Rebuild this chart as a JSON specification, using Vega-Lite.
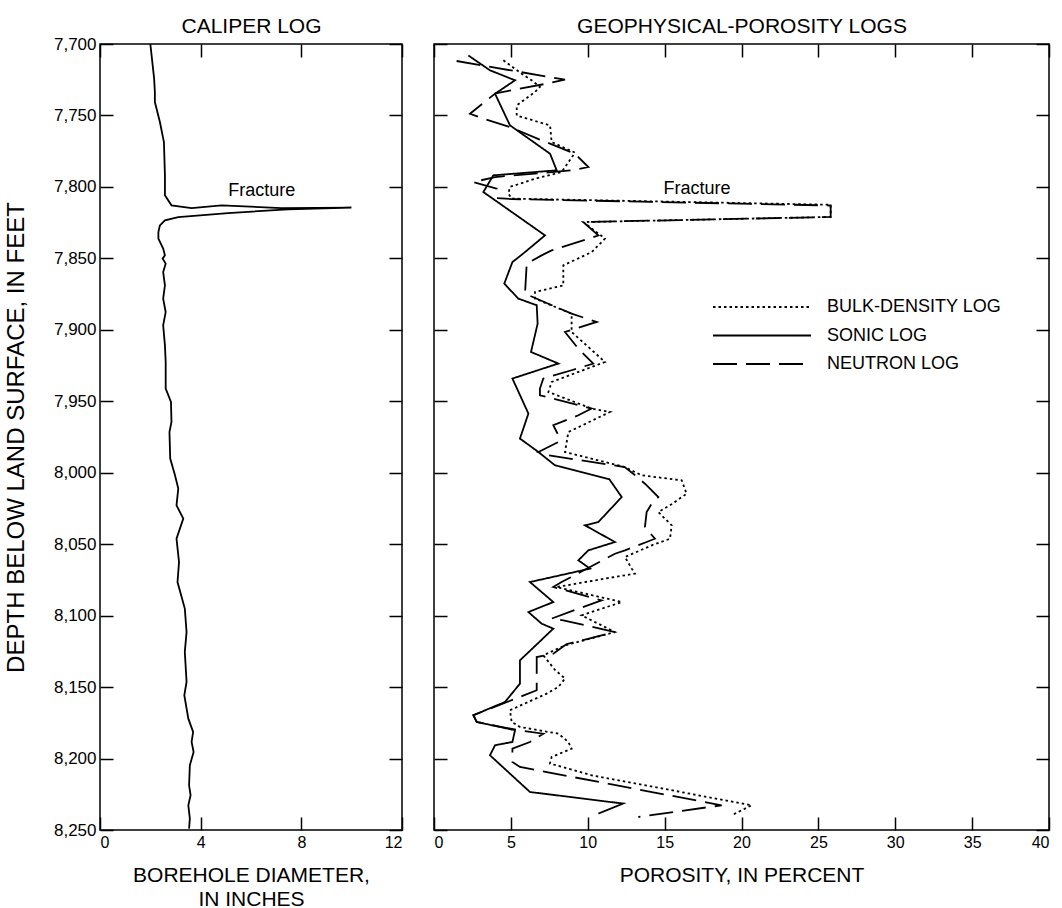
{
  "$schema": "https://vega.github.io/schema/vega-lite/v6.json",
  "background": "white",
  "padding": {"left": 3, "top": 14, "right": 0, "bottom": 0},
  "bounds": "flush",
  "spacing": 32,
  "config": {
    "font": "Liberation Sans",
    "view": {"stroke": "#000", "strokeWidth": 1.5},
    "axis": {
      "grid": false, "domain": false,
      "tickColor": "#000", "tickWidth": 1.5, "tickSize": -13,
      "labelColor": "#000", "labelFontSize": 16, "labelPadding": 17, "labelFont": "Liberation Sans",
      "titleColor": "#000", "titleFontSize": 21, "titleFontWeight": "normal", "titleFont": "Liberation Sans"
    },
    "line": {"color": "#000"}
  },
  "datasets": {
    "caliper": [
      {"depth": 7700, "dia": 2.0}, {"depth": 7708, "dia": 2.05}, {"depth": 7716, "dia": 2.1}, {"depth": 7724, "dia": 2.15},
      {"depth": 7733.6, "dia": 2.18}, {"depth": 7740.6, "dia": 2.18}, {"depth": 7754.6, "dia": 2.38}, {"depth": 7768.6, "dia": 2.54},
      {"depth": 7791.7, "dia": 2.58}, {"depth": 7805.9, "dia": 2.58}, {"depth": 7812.9, "dia": 2.84}, {"depth": 7814.8, "dia": 3.64},
      {"depth": 7812.9, "dia": 4.83}, {"depth": 7814.8, "dia": 7.21}, {"depth": 7814.5, "dia": 9.99}, {"depth": 7815.7, "dia": 7.47},
      {"depth": 7818.3, "dia": 5.09}, {"depth": 7821.1, "dia": 3.11}, {"depth": 7823.4, "dia": 2.58}, {"depth": 7826.9, "dia": 2.38},
      {"depth": 7831.6, "dia": 2.32}, {"depth": 7836.2, "dia": 2.32}, {"depth": 7843.2, "dia": 2.51}, {"depth": 7847.9, "dia": 2.58},
      {"depth": 7850.2, "dia": 2.49}, {"depth": 7853.7, "dia": 2.61}, {"depth": 7859.6, "dia": 2.51}, {"depth": 7868.9, "dia": 2.58},
      {"depth": 7878.2, "dia": 2.51}, {"depth": 7887.6, "dia": 2.61}, {"depth": 7896.9, "dia": 2.51}, {"depth": 7910.9, "dia": 2.58},
      {"depth": 7922.5, "dia": 2.61}, {"depth": 7941.2, "dia": 2.61}, {"depth": 7950.5, "dia": 2.82}, {"depth": 7964.5, "dia": 2.84},
      {"depth": 7971.5, "dia": 2.76}, {"depth": 7990.1, "dia": 2.79}, {"depth": 8001.8, "dia": 2.98}, {"depth": 8011.1, "dia": 3.11},
      {"depth": 8022.8, "dia": 3.04}, {"depth": 8032.1, "dia": 3.31}, {"depth": 8046.1, "dia": 3.04}, {"depth": 8062.5, "dia": 3.14},
      {"depth": 8076.5, "dia": 3.08}, {"depth": 8095.1, "dia": 3.37}, {"depth": 8111.4, "dia": 3.44}, {"depth": 8125.4, "dia": 3.37},
      {"depth": 8146.4, "dia": 3.44}, {"depth": 8155.7, "dia": 3.35}, {"depth": 8172.1, "dia": 3.51}, {"depth": 8181.4, "dia": 3.7},
      {"depth": 8188.4, "dia": 3.64}, {"depth": 8195.4, "dia": 3.72}, {"depth": 8204.7, "dia": 3.57}, {"depth": 8218.7, "dia": 3.54},
      {"depth": 8225.7, "dia": 3.6}, {"depth": 8232.7, "dia": 3.51}, {"depth": 8242.0, "dia": 3.57}, {"depth": 8249.0, "dia": 3.54}
    ],
    "porosity": [
      {"log": "SONIC LOG", "depth": 7708, "p": 2.23}, {"log": "SONIC LOG", "depth": 7718.4, "p": 3.64},
      {"log": "SONIC LOG", "depth": 7725.4, "p": 5.27}, {"log": "SONIC LOG", "depth": 7734.8, "p": 3.97},
      {"log": "SONIC LOG", "depth": 7756.9, "p": 4.94}, {"log": "SONIC LOG", "depth": 7776.8, "p": 7.55},
      {"log": "SONIC LOG", "depth": 7788.4, "p": 7.98}, {"log": "SONIC LOG", "depth": 7791.9, "p": 3.86},
      {"log": "SONIC LOG", "depth": 7803.6, "p": 3.21}, {"log": "SONIC LOG", "depth": 7833.9, "p": 7.22},
      {"log": "SONIC LOG", "depth": 7845.6, "p": 5.92}, {"log": "SONIC LOG", "depth": 7852.6, "p": 5.1},
      {"log": "SONIC LOG", "depth": 7867.7, "p": 4.57}, {"log": "SONIC LOG", "depth": 7878.2, "p": 5.49},
      {"log": "SONIC LOG", "depth": 7882.8, "p": 6.68}, {"log": "SONIC LOG", "depth": 7895.7, "p": 6.74},
      {"log": "SONIC LOG", "depth": 7915.5, "p": 6.31}, {"log": "SONIC LOG", "depth": 7923.6, "p": 8.09},
      {"log": "SONIC LOG", "depth": 7934.1, "p": 5.1}, {"log": "SONIC LOG", "depth": 7958.6, "p": 6.14},
      {"log": "SONIC LOG", "depth": 7976.1, "p": 5.59}, {"log": "SONIC LOG", "depth": 7985.5, "p": 6.79},
      {"log": "SONIC LOG", "depth": 7994.8, "p": 7.87}, {"log": "SONIC LOG", "depth": 8004.5, "p": 11.4},
      {"log": "SONIC LOG", "depth": 8017, "p": 12.21}, {"log": "SONIC LOG", "depth": 8034.5, "p": 10.69},
      {"log": "SONIC LOG", "depth": 8036.8, "p": 9.82}, {"log": "SONIC LOG", "depth": 8048.5, "p": 11.77},
      {"log": "SONIC LOG", "depth": 8054.3, "p": 10.04}, {"log": "SONIC LOG", "depth": 8061.3, "p": 9.39},
      {"log": "SONIC LOG", "depth": 8067.1, "p": 10.15}, {"log": "SONIC LOG", "depth": 8076.5, "p": 6.24},
      {"log": "SONIC LOG", "depth": 8090.5, "p": 7.76}, {"log": "SONIC LOG", "depth": 8097.5, "p": 6.14},
      {"log": "SONIC LOG", "depth": 8105.6, "p": 7.0}, {"log": "SONIC LOG", "depth": 8109.1, "p": 7.76},
      {"log": "SONIC LOG", "depth": 8131.3, "p": 5.59}, {"log": "SONIC LOG", "depth": 8147.6, "p": 5.59},
      {"log": "SONIC LOG", "depth": 8160.4, "p": 4.62}, {"log": "SONIC LOG", "depth": 8169.7, "p": 2.56},
      {"log": "SONIC LOG", "depth": 8174.4, "p": 2.78}, {"log": "SONIC LOG", "depth": 8180.2, "p": 5.27},
      {"log": "SONIC LOG", "depth": 8188.4, "p": 5.1}, {"log": "SONIC LOG", "depth": 8190.7, "p": 3.97},
      {"log": "SONIC LOG", "depth": 8197.7, "p": 3.64}, {"log": "SONIC LOG", "depth": 8223.4, "p": 6.24},
      {"log": "SONIC LOG", "depth": 8231.5, "p": 12.3}, {"log": "SONIC LOG", "depth": 8238.5, "p": 10.69},

      {"log": "NEUTRON LOG", "depth": 7711.9, "p": 1.47}, {"log": "NEUTRON LOG", "depth": 7725, "p": 8.52},
      {"log": "NEUTRON LOG", "depth": 7728, "p": 7.2}, {"log": "NEUTRON LOG", "depth": 7734.5, "p": 4.0},
      {"log": "NEUTRON LOG", "depth": 7748.8, "p": 2.34}, {"log": "NEUTRON LOG", "depth": 7752.3, "p": 3.21},
      {"log": "NEUTRON LOG", "depth": 7758.1, "p": 4.94}, {"log": "NEUTRON LOG", "depth": 7767.4, "p": 7.0},
      {"log": "NEUTRON LOG", "depth": 7776.8, "p": 9.17}, {"log": "NEUTRON LOG", "depth": 7786.1, "p": 10.04},
      {"log": "NEUTRON LOG", "depth": 7788.4, "p": 8.95}, {"log": "NEUTRON LOG", "depth": 7793.1, "p": 3.97},
      {"log": "NEUTRON LOG", "depth": 7796.6, "p": 2.56}, {"log": "NEUTRON LOG", "depth": 7801.2, "p": 4.08},
      {"log": "NEUTRON LOG", "depth": 7807.8, "p": 4.08}, {"log": "NEUTRON LOG", "depth": 7808.5, "p": 5.05},
      {"log": "NEUTRON LOG", "depth": 7813, "p": 25.8}, {"log": "NEUTRON LOG", "depth": 7821, "p": 25.8},
      {"log": "NEUTRON LOG", "depth": 7824.6, "p": 9.71}, {"log": "NEUTRON LOG", "depth": 7833.9, "p": 10.69},
      {"log": "NEUTRON LOG", "depth": 7835.5, "p": 10.25}, {"log": "NEUTRON LOG", "depth": 7844.4, "p": 7.65},
      {"log": "NEUTRON LOG", "depth": 7847.9, "p": 7.0}, {"log": "NEUTRON LOG", "depth": 7853.7, "p": 6.03},
      {"log": "NEUTRON LOG", "depth": 7874.7, "p": 5.92}, {"log": "NEUTRON LOG", "depth": 7888.7, "p": 8.95},
      {"log": "NEUTRON LOG", "depth": 7894.5, "p": 10.58}, {"log": "NEUTRON LOG", "depth": 7901.5, "p": 8.52},
      {"log": "NEUTRON LOG", "depth": 7913.2, "p": 9.39}, {"log": "NEUTRON LOG", "depth": 7923.6, "p": 10.36},
      {"log": "NEUTRON LOG", "depth": 7928.3, "p": 8.95}, {"log": "NEUTRON LOG", "depth": 7934.1, "p": 7.11},
      {"log": "NEUTRON LOG", "depth": 7941.1, "p": 6.89}, {"log": "NEUTRON LOG", "depth": 7945.8, "p": 6.89},
      {"log": "NEUTRON LOG", "depth": 7955.1, "p": 10.25}, {"log": "NEUTRON LOG", "depth": 7959.8, "p": 9.39},
      {"log": "NEUTRON LOG", "depth": 7966.8, "p": 7.76}, {"log": "NEUTRON LOG", "depth": 7973.8, "p": 8.09},
      {"log": "NEUTRON LOG", "depth": 7978.5, "p": 8.09}, {"log": "NEUTRON LOG", "depth": 7985.5, "p": 6.79},
      {"log": "NEUTRON LOG", "depth": 7987.8, "p": 7.44}, {"log": "NEUTRON LOG", "depth": 7996, "p": 12.4},
      {"log": "NEUTRON LOG", "depth": 8000.7, "p": 12.96}, {"log": "NEUTRON LOG", "depth": 8007.7, "p": 13.72},
      {"log": "NEUTRON LOG", "depth": 8017, "p": 14.59}, {"log": "NEUTRON LOG", "depth": 8021.7, "p": 14.16},
      {"log": "NEUTRON LOG", "depth": 8027.5, "p": 13.83}, {"log": "NEUTRON LOG", "depth": 8038, "p": 13.72},
      {"log": "NEUTRON LOG", "depth": 8046.2, "p": 14.37}, {"log": "NEUTRON LOG", "depth": 8048.5, "p": 13.83},
      {"log": "NEUTRON LOG", "depth": 8054.3, "p": 12.42}, {"log": "NEUTRON LOG", "depth": 8056.7, "p": 11.77},
      {"log": "NEUTRON LOG", "depth": 8076.5, "p": 8.3}, {"log": "NEUTRON LOG", "depth": 8080, "p": 7.76},
      {"log": "NEUTRON LOG", "depth": 8089.3, "p": 10.9}, {"log": "NEUTRON LOG", "depth": 8095.1, "p": 9.39},
      {"log": "NEUTRON LOG", "depth": 8102.1, "p": 7.65}, {"log": "NEUTRON LOG", "depth": 8103.3, "p": 8.41},
      {"log": "NEUTRON LOG", "depth": 8111.5, "p": 11.77}, {"log": "NEUTRON LOG", "depth": 8120, "p": 8.6},
      {"log": "NEUTRON LOG", "depth": 8126.6, "p": 7.76}, {"log": "NEUTRON LOG", "depth": 8129, "p": 6.68},
      {"log": "NEUTRON LOG", "depth": 8152.2, "p": 6.68}, {"log": "NEUTRON LOG", "depth": 8156, "p": 5.8},
      {"log": "NEUTRON LOG", "depth": 8169.7, "p": 2.56}, {"log": "NEUTRON LOG", "depth": 8174.4, "p": 2.78},
      {"log": "NEUTRON LOG", "depth": 8180.2, "p": 5.5}, {"log": "NEUTRON LOG", "depth": 8182.6, "p": 7.11},
      {"log": "NEUTRON LOG", "depth": 8188.4, "p": 6.24}, {"log": "NEUTRON LOG", "depth": 8193, "p": 5.1},
      {"log": "NEUTRON LOG", "depth": 8202.4, "p": 5.1}, {"log": "NEUTRON LOG", "depth": 8205.9, "p": 5.59},
      {"log": "NEUTRON LOG", "depth": 8232.7, "p": 18.71}, {"log": "NEUTRON LOG", "depth": 8240.9, "p": 13.29},

      {"log": "BULK-DENSITY LOG", "depth": 7711.4, "p": 4.51}, {"log": "BULK-DENSITY LOG", "depth": 7720.8, "p": 5.7},
      {"log": "BULK-DENSITY LOG", "depth": 7725.4, "p": 6.35}, {"log": "BULK-DENSITY LOG", "depth": 7730, "p": 6.89},
      {"log": "BULK-DENSITY LOG", "depth": 7733.6, "p": 6.57}, {"log": "BULK-DENSITY LOG", "depth": 7743, "p": 5.38},
      {"log": "BULK-DENSITY LOG", "depth": 7750, "p": 5.38}, {"log": "BULK-DENSITY LOG", "depth": 7757, "p": 7.55},
      {"log": "BULK-DENSITY LOG", "depth": 7768.6, "p": 7.65}, {"log": "BULK-DENSITY LOG", "depth": 7776, "p": 9.17},
      {"log": "BULK-DENSITY LOG", "depth": 7789.6, "p": 8.3}, {"log": "BULK-DENSITY LOG", "depth": 7794.3, "p": 6.57},
      {"log": "BULK-DENSITY LOG", "depth": 7800, "p": 4.94}, {"log": "BULK-DENSITY LOG", "depth": 7804.7, "p": 4.84},
      {"log": "BULK-DENSITY LOG", "depth": 7808.2, "p": 5.05}, {"log": "BULK-DENSITY LOG", "depth": 7812.5, "p": 25.8},
      {"log": "BULK-DENSITY LOG", "depth": 7821, "p": 25.8}, {"log": "BULK-DENSITY LOG", "depth": 7824.6, "p": 9.71},
      {"log": "BULK-DENSITY LOG", "depth": 7836.2, "p": 11.12}, {"log": "BULK-DENSITY LOG", "depth": 7845.6, "p": 10.26},
      {"log": "BULK-DENSITY LOG", "depth": 7854.9, "p": 8.41}, {"log": "BULK-DENSITY LOG", "depth": 7868.9, "p": 8.41},
      {"log": "BULK-DENSITY LOG", "depth": 7873.5, "p": 6.57}, {"log": "BULK-DENSITY LOG", "depth": 7878.2, "p": 6.57},
      {"log": "BULK-DENSITY LOG", "depth": 7888.7, "p": 8.95}, {"log": "BULK-DENSITY LOG", "depth": 7901.5, "p": 8.95},
      {"log": "BULK-DENSITY LOG", "depth": 7922.5, "p": 11.12}, {"log": "BULK-DENSITY LOG", "depth": 7936.5, "p": 7.65},
      {"log": "BULK-DENSITY LOG", "depth": 7943.5, "p": 7.44}, {"log": "BULK-DENSITY LOG", "depth": 7955.1, "p": 10.25},
      {"log": "BULK-DENSITY LOG", "depth": 7957.5, "p": 11.45}, {"log": "BULK-DENSITY LOG", "depth": 7971.5, "p": 8.74},
      {"log": "BULK-DENSITY LOG", "depth": 7985.5, "p": 8.52}, {"log": "BULK-DENSITY LOG", "depth": 7996, "p": 12.4},
      {"log": "BULK-DENSITY LOG", "depth": 8001.8, "p": 13.5}, {"log": "BULK-DENSITY LOG", "depth": 8005.3, "p": 16.11},
      {"log": "BULK-DENSITY LOG", "depth": 8014.7, "p": 16.43}, {"log": "BULK-DENSITY LOG", "depth": 8022.8, "p": 15.35},
      {"log": "BULK-DENSITY LOG", "depth": 8027.5, "p": 14.59}, {"log": "BULK-DENSITY LOG", "depth": 8036.8, "p": 15.46},
      {"log": "BULK-DENSITY LOG", "depth": 8046.2, "p": 15.35}, {"log": "BULK-DENSITY LOG", "depth": 8050.8, "p": 14.16},
      {"log": "BULK-DENSITY LOG", "depth": 8059, "p": 12.42}, {"log": "BULK-DENSITY LOG", "depth": 8067.1, "p": 12.86},
      {"log": "BULK-DENSITY LOG", "depth": 8070.6, "p": 13.07}, {"log": "BULK-DENSITY LOG", "depth": 8074.1, "p": 11.12},
      {"log": "BULK-DENSITY LOG", "depth": 8080, "p": 7.98}, {"log": "BULK-DENSITY LOG", "depth": 8090.5, "p": 12.21},
      {"log": "BULK-DENSITY LOG", "depth": 8099.8, "p": 9.6}, {"log": "BULK-DENSITY LOG", "depth": 8111.5, "p": 11.77},
      {"log": "BULK-DENSITY LOG", "depth": 8120.8, "p": 8.52}, {"log": "BULK-DENSITY LOG", "depth": 8127.8, "p": 7.11},
      {"log": "BULK-DENSITY LOG", "depth": 8138, "p": 7.87}, {"log": "BULK-DENSITY LOG", "depth": 8144, "p": 8.52},
      {"log": "BULK-DENSITY LOG", "depth": 8149.9, "p": 8.09}, {"log": "BULK-DENSITY LOG", "depth": 8154.6, "p": 7.33},
      {"log": "BULK-DENSITY LOG", "depth": 8166.2, "p": 4.94}, {"log": "BULK-DENSITY LOG", "depth": 8174.4, "p": 5.05},
      {"log": "BULK-DENSITY LOG", "depth": 8177.9, "p": 5.59}, {"log": "BULK-DENSITY LOG", "depth": 8182.6, "p": 8.09},
      {"log": "BULK-DENSITY LOG", "depth": 8188.4, "p": 8.74}, {"log": "BULK-DENSITY LOG", "depth": 8193.1, "p": 8.95},
      {"log": "BULK-DENSITY LOG", "depth": 8198.9, "p": 7.65}, {"log": "BULK-DENSITY LOG", "depth": 8203.5, "p": 7.54},
      {"log": "BULK-DENSITY LOG", "depth": 8211.7, "p": 10.25}, {"log": "BULK-DENSITY LOG", "depth": 8232.7, "p": 20.66},
      {"log": "BULK-DENSITY LOG", "depth": 8239.7, "p": 19.36}
    ]
  },
  "hconcat": [
    {
      "width": 302,
      "height": 786,
      "layer": [
        {
          "data": {"name": "caliper"},
          "mark": {"type": "line", "color": "#000", "strokeWidth": 1.8},
          "encoding": {
            "x": {"field": "dia", "type": "quantitative",
                  "scale": {"domain": [0, 12], "nice": false, "zero": false},
                  "axis": {"orient": "bottom", "values": [0, 4, 8, 12], "title": ["BOREHOLE DIAMETER,", "IN INCHES"], "titlePadding": 14, "titleLineHeight": 24}},
            "y": {"field": "depth", "type": "quantitative",
                  "scale": {"domain": [7700, 8250], "nice": false, "zero": false, "reverse": true},
                  "axis": {"orient": "left", "values": [7700, 7750, 7800, 7850, 7900, 7950, 8000, 8050, 8100, 8150, 8200, 8250], "format": ",.0f", "labelFontSize": 17, "title": "DEPTH BELOW LAND SURFACE, IN FEET", "titleFontSize": 24, "titlePadding": 25}},
            "order": {"value": null}
          }
        },
        {
          "data": {"values": [{}]},
          "mark": {"type": "text", "text": "Fracture", "fontSize": 18, "color": "#000", "align": "center", "baseline": "middle"},
          "encoding": {
            "x": {"datum": 6.43, "type": "quantitative", "axis": {"orient": "top", "values": [0, 4, 8, 12], "labels": false, "title": "CALIPER LOG", "titlePadding": 7}},
            "y": {"datum": 7803, "type": "quantitative", "axis": {"orient": "right", "values": [7700, 7750, 7800, 7850, 7900, 7950, 8000, 8050, 8100, 8150, 8200, 8250], "labels": false, "title": null}}
          }
        }
      ],
      "resolve": {"axis": {"x": "independent", "y": "independent"}}
    },
    {
      "width": 615,
      "height": 786,
      "layer": [
        {
          "data": {"name": "porosity"},
          "mark": {"type": "line", "color": "#000", "strokeWidth": 1.8},
          "encoding": {
            "x": {"field": "p", "type": "quantitative",
                  "scale": {"domain": [0, 40], "nice": false, "zero": false},
                  "axis": {"orient": "bottom", "values": [0, 5, 10, 15, 20, 25, 30, 35, 40], "title": "POROSITY, IN PERCENT", "titlePadding": 14}},
            "y": {"field": "depth", "type": "quantitative",
                  "scale": {"domain": [7700, 8250], "nice": false, "zero": false, "reverse": true},
                  "axis": {"orient": "left", "values": [7700, 7750, 7800, 7850, 7900, 7950, 8000, 8050, 8100, 8150, 8200, 8250], "labels": false, "title": null}},
            "strokeDash": {"field": "log", "type": "nominal",
                  "scale": {"domain": ["BULK-DENSITY LOG", "SONIC LOG", "NEUTRON LOG"], "range": [[2.5, 3], [1, 0], [24, 9]]},
                  "legend": {"orient": "none", "legendX": 612, "legendY": 253, "title": null, "padding": 0,
                             "symbolType": "stroke", "symbolSize": 9604, "symbolStrokeWidth": 1.8, "symbolStrokeColor": "#000",
                             "labelFontSize": 18, "labelFont": "Liberation Sans", "labelColor": "#000", "labelOffset": 15, "labelLimit": 400,
                             "clipHeight": 20, "rowPadding": 8.5}},
            "order": {"value": null}
          }
        },
        {
          "data": {"values": [{}]},
          "mark": {"type": "text", "text": "Fracture", "fontSize": 18, "color": "#000", "align": "center", "baseline": "middle"},
          "encoding": {
            "x": {"datum": 17.1, "type": "quantitative", "axis": {"orient": "top", "values": [0, 5, 10, 15, 20, 25, 30, 35, 40], "labels": false, "title": "GEOPHYSICAL-POROSITY LOGS", "titlePadding": 7}},
            "y": {"datum": 7801.5, "type": "quantitative", "axis": {"orient": "right", "values": [7700, 7750, 7800, 7850, 7900, 7950, 8000, 8050, 8100, 8150, 8200, 8250], "labels": false, "title": null}}
          }
        }
      ],
      "resolve": {"axis": {"x": "independent", "y": "independent"}}
    }
  ]
}
